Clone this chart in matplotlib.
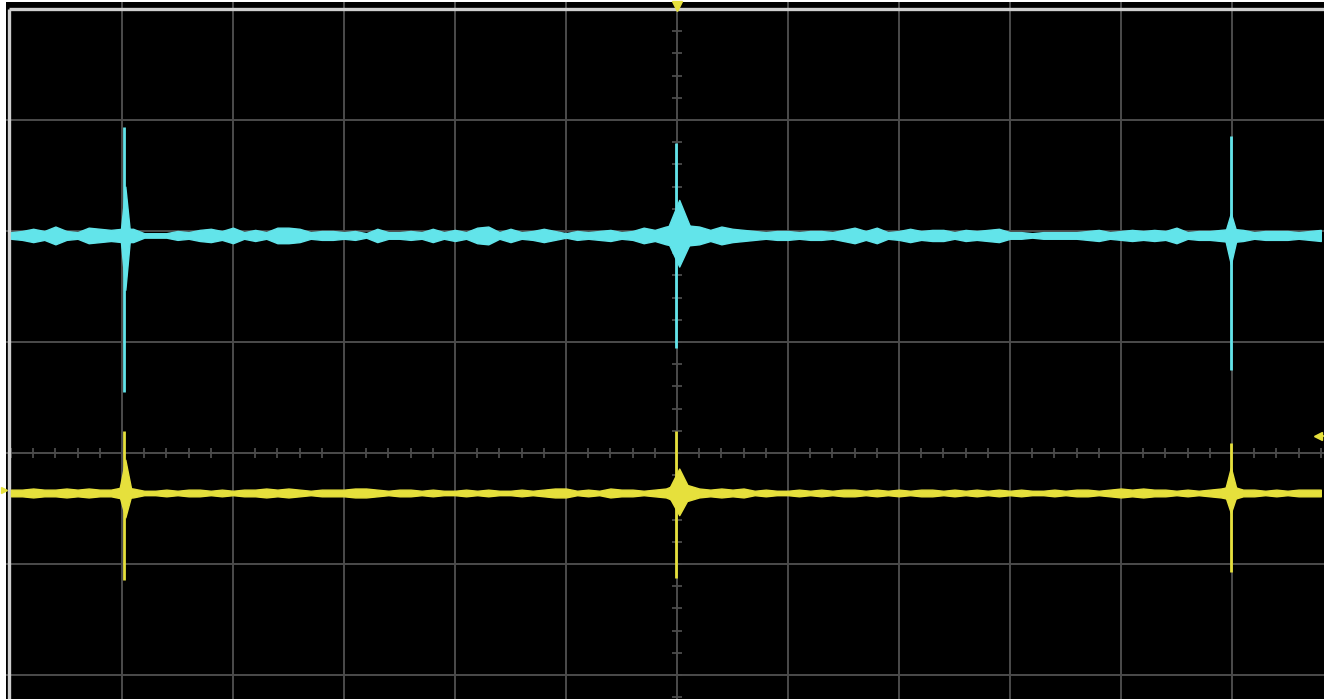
import numpy as np
import matplotlib
matplotlib.use('Agg')
import matplotlib.pyplot as plt

# time axis in divisions (0 = trigger point), one sample every 0.1 div
t = np.linspace(-6.0, 5.8, 119)

# channel levels, divisions above the centre line
cyan_level = 1.96
yellow_level = -0.36

# noise half-width along each trace, in hundredths of a division
cyan_noise = [3, 4, 6, 4, 8, 4, 3, 7, 6, 5,
              6, 6, 2, 2, 2, 4, 3, 5, 6, 4,
              7, 3, 5, 3, 7, 7, 6, 3, 4, 4,
              3, 4, 2, 6, 3, 3, 4, 3, 6, 3,
              5, 3, 7, 8, 3, 6, 3, 4, 6, 4,
              2, 4, 3, 4, 5, 3, 4, 7, 5, 8,
              10, 9, 8, 5, 8, 6, 5, 4, 3, 4,
              4, 3, 4, 4, 3, 5, 7, 4, 7, 3,
              4, 6, 4, 5, 5, 3, 5, 4, 5, 6,
              3, 3, 2, 3, 3, 3, 3, 4, 5, 3,
              4, 5, 4, 5, 4, 7, 3, 4, 4, 5,
              6, 5, 3, 4, 4, 4, 3, 4, 5]
yellow_noise = [3, 3, 4, 3, 3, 4, 3, 4, 3, 3,
                5, 4, 2, 2, 3, 2, 3, 3, 2, 3,
                2, 3, 3, 4, 3, 4, 3, 2, 3, 3,
                3, 4, 4, 3, 2, 3, 3, 2, 3, 2,
                2, 3, 2, 3, 2, 2, 3, 2, 3, 4,
                4, 2, 3, 2, 4, 3, 3, 2, 3, 4,
                8, 7, 4, 3, 4, 3, 4, 2, 3, 2,
                2, 3, 2, 3, 2, 3, 3, 2, 3, 2,
                3, 2, 3, 3, 2, 3, 2, 3, 2, 3,
                2, 3, 2, 2, 3, 2, 3, 3, 2, 3,
                4, 3, 4, 3, 3, 2, 3, 2, 3, 4,
                6, 3, 3, 2, 3, 2, 3, 3, 3]

# glitches (div): time, top and bottom of the spike
spike_t = [-4.98, -0.01, 4.99]
cyan_top = [2.94, 2.79, 2.86]
cyan_bot = [0.55, 0.95, 0.75]
yellow_top = [0.20, 0.20, 0.09]
yellow_bot = [-1.14, -1.13, -1.07]
# ringing around each glitch: centre, top, bottom, width
ring_t = [-4.97, 0.02, 4.99]
cyan_ring_top = [2.40, 2.28, 2.16]
cyan_ring_bot = [1.47, 1.68, 1.70]
cyan_ring_w = [0.09, 0.26, 0.12]
yellow_ring_top = [-0.06, -0.14, -0.13]
yellow_ring_bot = [-0.58, -0.56, -0.54]
yellow_ring_w = [0.12, 0.22, 0.12]

cyan = '#62e4ea'
yellow = '#e6e03c'
grid = '#4c4c4c'
frame = '#cfcfcf'

fig = plt.figure(figsize=(13.24, 6.99), dpi=100, facecolor='white')
ax = fig.add_axes([6 / 1324, 0, 1318 / 1324, 697 / 699])
ax.set_facecolor('black')
ax.set_xlim(-6.045, 5.829)
ax.set_ylim(-2.216, 4.063)
for s in ax.spines.values():
    s.set_visible(False)
ax.set_xticks([])
ax.set_yticks([])

# graticule
for x in range(-5, 6):
    ax.axvline(x, color=grid, lw=1.4, zorder=1)
for y in range(-2, 4):
    ax.axhline(y, color=grid, lw=1.4, zorder=1)
ax.vlines(np.arange(-6, 6.01, 0.2), -0.045, 0.045, color=grid, lw=1.3, zorder=1)
ax.hlines(np.arange(-2.2, 4.0, 0.2), -0.045, 0.045, color=grid, lw=1.3, zorder=1)
ax.plot([-6.015, -6.015], [-2.3, 4.0], color=frame, lw=2.4, zorder=2, solid_capstyle='butt')
ax.plot([-6.015, 6], [4.0, 4.0], color=frame, lw=2.4, zorder=2, solid_capstyle='butt')

# traces
cn = np.array(cyan_noise) / 100
yn = np.array(yellow_noise) / 100
ax.fill_between(t, cyan_level - cn, cyan_level + cn, color=cyan, lw=1.0, zorder=3)
ax.fill_between(t, yellow_level - yn, yellow_level + yn, color=yellow, lw=1.0, zorder=3)

ax.vlines(spike_t, cyan_bot, cyan_top, color=cyan, lw=2.0, zorder=4)
ax.vlines(spike_t, yellow_bot, yellow_top, color=yellow, lw=2.0, zorder=4)

# ringing drawn as narrow diamonds around the trace level
for i in range(len(ring_t)):
    xs = [ring_t[i] - cyan_ring_w[i] / 2, ring_t[i], ring_t[i] + cyan_ring_w[i] / 2]
    ax.fill_between(xs, [cyan_level, cyan_ring_bot[i], cyan_level],
                    [cyan_level, cyan_ring_top[i], cyan_level], color=cyan, lw=1.0, zorder=4)
    xs = [ring_t[i] - yellow_ring_w[i] / 2, ring_t[i], ring_t[i] + yellow_ring_w[i] / 2]
    ax.fill_between(xs, [yellow_level, yellow_ring_bot[i], yellow_level],
                    [yellow_level, yellow_ring_top[i], yellow_level], color=yellow, lw=1.0, zorder=4)

# trigger / channel markers
ax.plot(0, 4.03, marker='v', ms=7, color=yellow, clip_on=False, zorder=5)
ax.plot(-6.06, -0.33, marker='>', ms=4, color=yellow, clip_on=False, zorder=5)
ax.plot(5.775, 0.153, marker='<', ms=6, color=yellow, clip_on=False, zorder=5)
ax.plot([5.775, 5.829], [0.153, 0.153], color=yellow, lw=1.2, zorder=5)

fig.savefig('out.png', dpi=100, facecolor='white')
